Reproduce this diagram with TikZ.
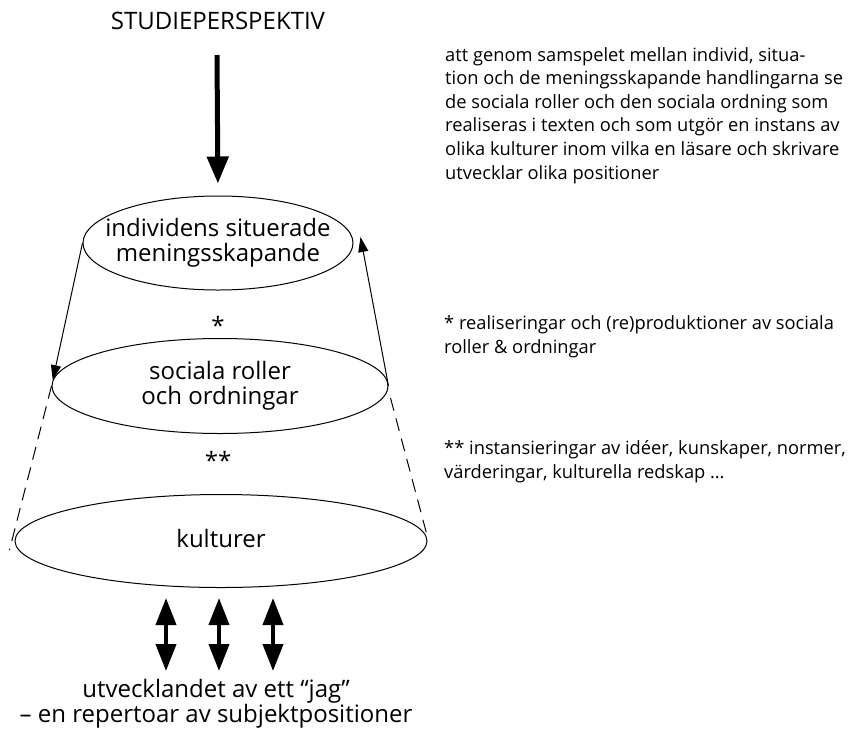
\documentclass[tikz,border=0pt]{standalone}
\usepackage{fontspec}
\setmainfont{Open Sans}
\usetikzlibrary{shapes.geometric,arrows.meta,calc}
\begin{document}
\begin{tikzpicture}[x=1pt,y=-1pt,
  oval/.style={draw,ellipse,line width=1pt,inner sep=0pt},
  lbl/.style={inner sep=0pt,align=center,font=\fontsize{24}{25.5}\selectfont},
  side/.style={inner sep=0pt,align=left,anchor=base west,font=\fontsize{18.3}{23.6}\selectfont},
  thinarrow/.style={line width=1pt,-{Triangle[length=15pt,width=10pt]}},
  dashline/.style={line width=1pt,dash pattern=on 13pt off 8pt},
  bigarrow/.style={line width=5pt,-{Triangle[length=27pt,width=21pt]}},
  dblarrow/.style={line width=4pt,{Triangle[length=27pt,width=20pt]}-{Triangle[length=27pt,width=20pt]}}]
\useasboundingbox (0,0) rectangle (853,729);
\node[lbl,anchor=base] (title) at (218,29) {STUDIEPERSPEKTIV};
\node[oval,minimum width=270pt,minimum height=94pt] (top) at (218,243) {};
\node[oval,minimum width=336pt,minimum height=95pt] (mid) at (220,386) {};
\node[oval,minimum width=412pt,minimum height=93pt] (bot) at (221,541) {};
\node[lbl] (toptxt) at (top.center) {individens situerade\\meningsskapande};
\node[lbl] (midtxt) at (mid.center) {sociala roller\\och ordningar};
\node[lbl,anchor=base] (bottxt) at (221,547) {kulturer};
\node[lbl] (s1) at (218,325) {*};
\node[lbl] (s2) at (218,460) {**};
\coordinate (a0) at (217,55);
\draw[bigarrow,shorten >=12pt] (a0) -- (top.north);
\draw[thinarrow] (top.west) -- (mid.178);
\draw[thinarrow] (mid.east) -- ($(top.east)+(7,-6)$);
\draw[dashline] (mid.west) -- ($(bot.west)+(-5,9)$);
\draw[dashline] ($(mid.east)+(2,12)$) -- ($(bot.east)+(0,-4)$);
\foreach \i/\x in {1/166,2/219,3/273}{
  \coordinate (u\i) at (\x,598);
  \coordinate (d\i) at (\x,671);
  \draw[dblarrow] (u\i) -- (d\i);
}
\node[lbl,anchor=base] (jag) at (216,722.5) {utvecklandet av ett “jag”\\– en repertoar av subjektpositioner};
\node[side] (t1) at (445,179) {att genom samspelet mellan individ, situa-\\tion och de meningsskapande handlingarna se\\de sociala roller och den sociala ordning som\\realiseras i texten och som utgör en instans av\\olika kulturer inom vilka en läsare och skrivare\\utvecklar olika positioner};
\node[side] (t2) at (444,353) {* realiseringar och (re)produktioner av sociala\\roller \& ordningar};
\node[side] (t3) at (444,478) {** instansieringar av idéer, kunskaper, normer,\\värderingar, kulturella redskap …};
\end{tikzpicture}
\end{document}
